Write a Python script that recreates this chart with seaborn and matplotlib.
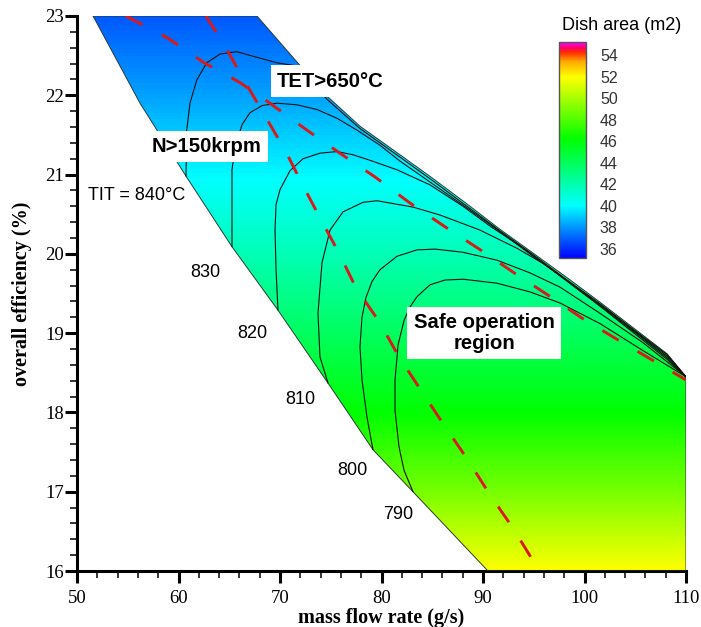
import numpy as np
import matplotlib
matplotlib.use("Agg")
import matplotlib.pyplot as plt
import seaborn as sns
from matplotlib.colors import LinearSegmentedColormap, Normalize
from matplotlib.patches import Polygon
from matplotlib.ticker import MultipleLocator
import matplotlib.cm as cm

# ---------------- data ----------------
# dish area (colour field) versus overall efficiency
eff_grid = [16, 17, 18, 19, 20, 21, 22, 23]
dish_area_at_eff = [52.0, 48.9, 46.2, 43.9, 41.8, 39.9, 38.2, 36.8]

# boundary of the feasible (coloured) domain
domain_x = [51.58, 67.73, 71.67, 74.63, 77.88, 81.82, 85.07, 88.42, 91.67, 94.93,
            98.28, 101.53, 104.78, 108.13, 110.0, 110.0, 90.49, 83.10, 79.16,
            74.73, 69.80, 65.27, 60.74, 56.21]
domain_y = [23.0, 23.0, 22.42, 21.99, 21.61, 21.25, 20.95, 20.63, 20.31, 20.01,
            19.70, 19.39, 19.07, 18.74, 18.45, 16.0, 16.0, 17.00, 17.53,
            18.37, 19.29, 20.09, 20.98, 21.90]

# TIT iso-lines (black)
tit840_x = [60.74, 60.81, 61.13, 61.79, 62.78, 64.09, 65.73, 67.70, 69.70, 71.67, 74.63,
            77.88, 81.82, 85.07, 88.42, 91.67, 94.93, 98.28, 101.53, 104.78, 108.13, 110.0]
tit840_y = [20.98, 21.56, 21.90, 22.19, 22.41, 22.52, 22.55, 22.48, 22.41, 22.37, 21.95,
            21.58, 21.22, 20.92, 20.60, 20.29, 19.99, 19.67, 19.37, 19.05, 18.73, 18.45]

tit830_x = [65.27, 65.27, 65.27, 65.57, 66.26, 67.04, 68.23, 69.70, 71.67, 73.65, 75.62,
            77.59, 79.85, 81.82, 85.07, 88.42, 91.67, 94.93, 98.28, 101.53, 104.78, 108.13, 110.0]
tit830_y = [20.09, 20.68, 21.06, 21.34, 21.63, 21.78, 21.87, 21.90, 21.88, 21.82, 21.71,
            21.56, 21.37, 21.17, 20.88, 20.58, 20.28, 19.97, 19.66, 19.36, 19.04, 18.71, 18.45]

tit820_x = [69.80, 69.61, 69.51, 69.61, 70.00, 70.99, 72.27, 73.94, 75.62, 77.19, 78.87,
            81.53, 84.78, 88.03, 90.69, 93.65, 96.60, 99.56, 102.51, 105.47, 108.13, 110.0]
tit820_y = [19.29, 19.80, 20.30, 20.62, 20.81, 21.05, 21.20, 21.27, 21.29, 21.25, 21.18,
            21.06, 20.87, 20.60, 20.35, 20.10, 19.82, 19.53, 19.25, 18.96, 18.69, 18.45]

tit810_x = [74.73, 73.94, 73.74, 74.14, 74.93, 76.21, 78.18, 79.56, 83.10, 85.76, 89.70,
            93.35, 96.31, 99.56, 102.51, 105.47, 108.13, 110.0]
tit810_y = [18.37, 18.70, 19.25, 19.89, 20.30, 20.53, 20.65, 20.67, 20.59, 20.49, 20.30,
            20.07, 19.85, 19.54, 19.24, 18.94, 18.67, 18.45]

tit800_x = [79.16, 78.57, 78.08, 77.88, 78.08, 78.47, 79.06, 79.85, 81.53, 83.50, 85.27,
            88.03, 91.38, 94.63, 97.59, 101.53, 105.76, 110.0]
tit800_y = [17.53, 17.94, 18.41, 18.83, 19.20, 19.45, 19.65, 19.80, 19.97, 20.05, 20.06,
            20.02, 19.92, 19.76, 19.58, 19.25, 18.88, 18.45]

tit790_x = [83.10, 82.22, 81.72, 81.33, 81.33, 81.63, 82.22, 82.81, 83.50, 84.78, 86.26,
            88.03, 91.38, 94.63, 97.59, 101.53, 105.76, 110.0]
tit790_y = [17.00, 17.27, 17.57, 18.03, 18.41, 18.85, 19.16, 19.33, 19.46, 19.61, 19.67,
            19.68, 19.63, 19.52, 19.38, 19.12, 18.78, 18.45]

# limit lines (red dashed)
tet_limit_x = [54.80, 58.97, 62.41, 66.06, 69.01, 72.66, 76.01, 79.36, 82.71, 86.16,
               89.51, 92.96, 96.40, 99.75, 103.10, 106.55, 110.0]
tet_limit_y = [23.00, 22.72, 22.42, 22.16, 21.90, 21.56, 21.26, 20.97, 20.65, 20.35,
               20.07, 19.77, 19.48, 19.19, 18.93, 18.67, 18.41]

speed_limit_x = [62.70, 64.58, 66.55, 68.52, 70.49, 72.27, 74.04, 75.81, 77.49, 79.85,
                 81.72, 83.99, 86.16, 88.52, 90.69, 92.96, 95.02, 95.42]
speed_limit_y = [23.00, 22.62, 22.17, 21.74, 21.31, 20.86, 20.43, 20.01, 19.57, 19.13,
                 18.70, 18.26, 17.84, 17.40, 16.96, 16.54, 16.11, 16.00]

tit_labels = ["TIT = 840°C", "830", "820", "810", "800", "790"]
tit_label_x = [55.9, 62.6, 67.3, 72.0, 77.1, 81.6]
tit_label_y = [20.74, 19.77, 18.99, 18.16, 17.27, 16.71]

cbar_ticks = [36, 38, 40, 42, 44, 46, 48, 50, 52, 54]
cbar_min, cbar_max = 35.1, 55.2
cmap_values = [35.1, 40.0, 46.2, 52.0, 53.4, 54.3, 54.7, 55.2]
cmap_colors = ["#0000ff", "#00ffff", "#00ff00", "#ffff00", "#ffaa00", "#ff2800", "#ff0064", "#ff00ff"]

# ---------------- style ----------------
sns.set_theme(style="white")
plt.rcParams["font.family"] = ["Liberation Sans", "DejaVu Sans"]
plt.rcParams["text.color"] = "black"
plt.rcParams["axes.labelcolor"] = "black"
plt.rcParams["xtick.color"] = "black"
plt.rcParams["ytick.color"] = "black"

fig = plt.figure(figsize=(7.01, 6.27), dpi=100)
fig.patch.set_facecolor("white")
ax = fig.add_axes([77 / 701, 1 - 571 / 627, 609 / 701, 555 / 627])
ax.set_facecolor("white")

pos = [(v - cbar_min) / (cbar_max - cbar_min) for v in cmap_values]
cmap = LinearSegmentedColormap.from_list("tecrainbow", list(zip(pos, cmap_colors)), N=512)
norm = Normalize(cbar_min, cbar_max)

# colour field clipped to the domain
X, Y = np.meshgrid([50.0, 110.0], eff_grid)
Z = np.repeat(np.array(dish_area_at_eff)[:, None], 2, axis=1)
cf = ax.contourf(X, Y, Z, levels=np.linspace(cbar_min, cbar_max, 301), cmap=cmap, norm=norm,
                 antialiased=False)
domain = Polygon(np.column_stack([domain_x, domain_y]), closed=True,
                 facecolor="none", edgecolor="#2b3b33", linewidth=0.7, zorder=3)
ax.add_patch(domain)
cf.set_clip_path(domain)

# TIT iso-lines
for xs, ys in [(tit840_x, tit840_y), (tit830_x, tit830_y), (tit820_x, tit820_y),
               (tit810_x, tit810_y), (tit800_x, tit800_y), (tit790_x, tit790_y)]:
    sns.lineplot(x=xs, y=ys, sort=False, estimator=None, ax=ax,
                 color="#111111", linewidth=0.8, zorder=4)

# red dashed limit lines
for xs, ys in [(tet_limit_x, tet_limit_y), (speed_limit_x, speed_limit_y)]:
    sns.lineplot(x=xs, y=ys, sort=False, estimator=None, ax=ax,
                 color="#d81a1a", linewidth=2.1, linestyle=(0, (6.5, 7.5)), zorder=5)

# labels of TIT lines
for t, x, y in zip(tit_labels, tit_label_x, tit_label_y):
    ax.text(x, y, t, ha="center", va="center", fontsize=13, color="black", zorder=6)

box = dict(boxstyle="square,pad=0.3", facecolor="white", edgecolor="none")
ax.text(74.95, 22.18, "TET>650°C", ha="center", va="center", fontsize=14.6,
        fontweight="bold", color="black", bbox=box, zorder=7)
ax.text(62.8, 21.35, "N>150krpm", ha="center", va="center", fontsize=14.6,
        fontweight="bold", color="black", bbox=box, zorder=7)
ax.text(90.1, 19.0, "Safe operation\nregion", ha="center", va="center", fontsize=14.6,
        fontweight="bold", color="black", bbox=box, linespacing=1.1, zorder=7)

# axes
ax.set_xlim(50, 110)
ax.set_ylim(16, 23)
for s in ["top", "right"]:
    ax.spines[s].set_visible(False)
for s in ["left", "bottom"]:
    ax.spines[s].set_linewidth(2.2)
    ax.spines[s].set_color("black")
ax.xaxis.set_major_locator(MultipleLocator(10))
ax.xaxis.set_minor_locator(MultipleLocator(2))
ax.yaxis.set_major_locator(MultipleLocator(1))
ax.yaxis.set_minor_locator(MultipleLocator(0.2))
ax.tick_params(which="major", direction="out", length=8.5, width=2.2, color="black",
               labelsize=13.5, labelfontfamily="Liberation Serif", labelcolor="black",
               bottom=True, left=True)
ax.tick_params(axis="x", which="major", pad=5)
ax.tick_params(axis="y", which="major", pad=1)
ax.tick_params(which="minor", direction="out", length=5, width=1.1, color="black",
               bottom=True, left=True)
ax.set_xlabel("mass flow rate (g/s)", fontsize=14.5, fontweight="bold",
              family="Liberation Serif", color="black")
ax.set_ylabel("overall efficiency (%)", fontsize=14.5, fontweight="bold",
              family="Liberation Serif", color="black")
ax.xaxis.set_label_coords(0.5, -0.066)
ax.yaxis.set_label_coords(-0.074, 0.5)

# colour bar
cax = fig.add_axes([559 / 701, 1 - 258.3 / 627, 27 / 701, 216 / 627])
sm = cm.ScalarMappable(norm=norm, cmap=cmap)
cb = fig.colorbar(sm, cax=cax, ticks=cbar_ticks)
cb.outline.set_edgecolor("#555555")
cb.outline.set_linewidth(1.0)
cax.tick_params(length=0, pad=10, labelsize=11.5, labelcolor="#333333")
fig.text(622 / 701, 1 - 25 / 627, "Dish area (m2)", ha="center", va="center",
         fontsize=13, color="black")

fig.savefig("out.png", dpi=100)
